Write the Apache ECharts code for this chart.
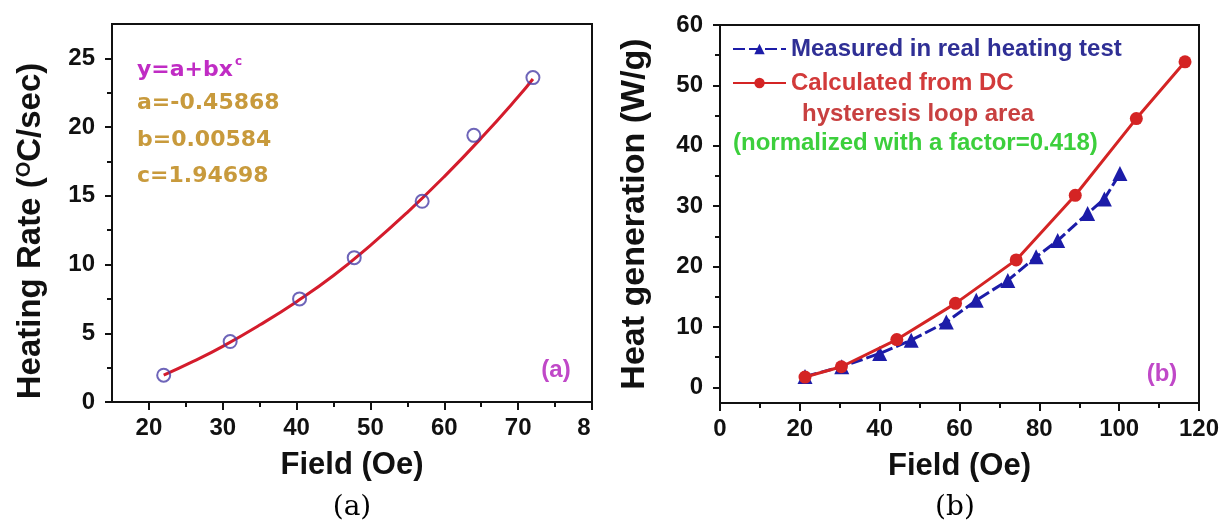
<!DOCTYPE html>
<html><head><meta charset="utf-8">
<script src="https://cdn.jsdelivr.net/npm/echarts@6/dist/echarts.min.js"></script>
<style>html,body{margin:0;padding:0;background:#fff}#c{width:1230px;height:530px}</style>
</head><body><div id="c"></div>
<script>
// ---- Panel (a) data ----
const xTicksA = [20, 30, 40, 50, 60, 70, 80];
const xTickLabelsA = ['20', '30', '40', '50', '60', '70', '8'];
const xMinorA = [25, 35, 45, 55, 65, 75];
const yTicksA = [0, 5, 10, 15, 20, 25];
const yMinorA = [2.5, 7.5, 12.5, 17.5, 22.5];
const fieldA = [22, 31, 40.4, 47.8, 57, 64, 72];
const rateA = [1.95, 4.4, 7.5, 10.5, 14.6, 19.4, 23.6];
const fitFieldA = [22, 26, 30, 35, 40, 45, 50, 55, 60, 65, 70, 72];
const fitRateA = [1.95, 2.95, 4.05, 5.6, 7.3, 9.2, 11.4, 13.8, 16.4, 19.2, 22.2, 23.5];
const fitLines = ['a=-0.45868', 'b=0.00584', 'c=1.94698'];

// ---- Panel (b) data ----
const xTicksB = [0, 20, 40, 60, 80, 100, 120];
const xMinorB = [10, 30, 50, 70, 90, 110];
const yTicksB = [0, 10, 20, 30, 40, 50, 60];
const yMinorB = [5, 15, 25, 35, 45, 55];
const fieldMeas = [21.3, 30.5, 40, 47.9, 56.7, 64.2, 72.1, 79.2, 84.6, 92.1, 96.3, 100.2];
const heatMeas = [1.8, 3.4, 5.6, 7.8, 10.8, 14.4, 17.7, 21.6, 24.3, 28.8, 31.2, 35.4];
const fieldCalc = [21.3, 30.4, 44.3, 59, 74.2, 89, 104.3, 116.5];
const heatCalc = [1.7, 3.4, 7.9, 13.9, 21.1, 31.8, 44.5, 53.9];
const nameMeas = 'Measured in real heating test';
const nameCalc = 'Calculated from DC';
const calcLine2 = 'hysteresis loop area';
const normNote = '(normalized with a factor=0.418)';

const SANS = '"Liberation Sans", Arial, sans-serif';
const pair = (xs, ys) => xs.map((x, i) => [x, ys[i]]);

const labelStyle = { fontFamily: SANS, fontWeight: 'bold', fontSize: 24, color: '#111',
  rich: { cut: { fontFamily: SANS, fontWeight: 'bold', fontSize: 24, color: '#111', padding: [0, 16, 0, 0] } } };
function nameStyle(size, pad) {
  return { fontFamily: SANS, fontWeight: 'bold', fontSize: size, color: '#111', padding: pad,
    rich: { sup: { fontFamily: SANS, fontWeight: 'bold', fontSize: 20, color: '#111', padding: [0, 0, 14, 0] } } };
}
const lineStyleAx = { color: '#111', width: 2 };

function xMain(gi, min, max, ticks, labels, name) {
  return { type: 'value', gridIndex: gi, min, max, position: 'bottom',
    axisLine: { show: true, onZero: false, lineStyle: lineStyleAx },
    axisTick: { show: true, inside: false, length: 8, lineStyle: { color: '#111', width: 2 }, customValues: ticks },
    axisLabel: { ...labelStyle, margin: 14, customValues: ticks,
      formatter: v => { const i = ticks.indexOf(v); const t = i >= 0 ? labels[i] : '';
        return (t !== String(v) && t !== '') ? '{cut|' + t + '}' : t; } },
    splitLine: { show: false },
    name, nameLocation: 'middle', nameGap: 48, nameTextStyle: nameStyle(31, 0) };
}
function xMinor(gi, min, max, ticks) {
  return { type: 'value', gridIndex: gi, min, max, position: 'bottom',
    axisLine: { show: false, onZero: false }, axisLabel: { show: false }, splitLine: { show: false },
    axisTick: { show: true, length: 5, lineStyle: { color: '#111', width: 2 }, customValues: ticks } };
}
function yMain(gi, min, max, ticks, name, gap, size, pad) {
  return { type: 'value', gridIndex: gi, min, max, position: 'left',
    axisLine: { show: true, onZero: false, lineStyle: lineStyleAx },
    axisTick: { show: true, length: 7, lineStyle: { color: '#111', width: 2 }, customValues: ticks },
    axisLabel: { ...labelStyle, margin: 17, customValues: ticks, formatter: v => String(v) },
    splitLine: { show: false },
    name, nameLocation: 'middle', nameGap: gap, nameRotate: 90, nameTextStyle: nameStyle(size, pad) };
}
function yMinor(gi, min, max, ticks) {
  return { type: 'value', gridIndex: gi, min, max, position: 'left',
    axisLine: { show: false, onZero: false }, axisLabel: { show: false }, splitLine: { show: false },
    axisTick: { show: true, length: 5, lineStyle: { color: '#111', width: 2 }, customValues: ticks } };
}

const chart = echarts.init(document.getElementById('c'));
chart.setOption({
  animation: false,
  backgroundColor: '#fff',
  grid: [
    { left: 112, top: 24, width: 480, height: 378, show: true, borderColor: '#111', borderWidth: 2, containLabel: false },
    { left: 720, top: 25, width: 479, height: 378, show: true, borderColor: '#111', borderWidth: 2, containLabel: false }
  ],
  xAxis: [
    xMain(0, 15, 80, xTicksA, xTickLabelsA, 'Field (Oe)'),
    xMinor(0, 15, 80, xMinorA),
    xMain(1, 0, 120, xTicksB, xTicksB.map(String), 'Field (Oe)'),
    xMinor(1, 0, 120, xMinorB)
  ],
  yAxis: [
    yMain(0, 0, 27.5, yTicksA, 'Heating Rate ({sup|O}C/sec)', 64, 33, [0, 36, 0, 0]),
    yMinor(0, 0, 27.5, yMinorA),
    yMain(1, -2.6, 60, yTicksB, 'Heat generation (W/g)', 68, 34, [0, 0, 0, 0]),
    yMinor(1, -2.6, 60, yMinorB)
  ],
  legend: {
    orient: 'vertical', left: 732, top: 37, padding: 0, itemGap: 10,
    itemWidth: 53, itemHeight: 13, selectedMode: false,
    textStyle: { fontFamily: SANS, fontWeight: 'bold', fontSize: 24 },
    data: [
      { name: nameMeas, textStyle: { color: '#2f2f95' } },
      { name: nameCalc, textStyle: { color: '#d23a3a' } }
    ]
  },
  series: [
    { type: 'line', xAxisIndex: 0, yAxisIndex: 0, data: pair(fitFieldA, fitRateA), smooth: true,
      showSymbol: false, lineStyle: { color: '#d41c2c', width: 3 }, z: 3 },
    { type: 'scatter', xAxisIndex: 0, yAxisIndex: 0, data: pair(fieldA, rateA), symbol: 'circle', symbolSize: 13,
      itemStyle: { color: 'rgba(0,0,0,0)', borderColor: '#4a3fa8', borderWidth: 2 }, z: 4 },
    { name: nameMeas, type: 'line', xAxisIndex: 2, yAxisIndex: 2, data: pair(fieldMeas, heatMeas),
      symbol: 'triangle', symbolSize: 15, color: '#1c1ca8',
      lineStyle: { color: '#1c1ca8', width: 3, type: [12, 4] }, itemStyle: { color: '#1c1ca8' }, z: 3 },
    { name: nameCalc, type: 'line', xAxisIndex: 2, yAxisIndex: 2, data: pair(fieldCalc, heatCalc),
      symbol: 'circle', symbolSize: 13, color: '#d42424',
      lineStyle: { color: '#d42424', width: 3 }, itemStyle: { color: '#d42424' }, z: 4 }
  ],
  graphic: [
    { type: 'text', x: 137, y: 70, style: { text: 'y=a+bx{sup|c}', textVerticalAlign: 'middle', fill: '#c02cc4',
        font: 'bold 22px "DejaVu Sans", sans-serif',
        rich: { sup: { fontSize: 12, fontWeight: 'bold', fontFamily: '"DejaVu Sans", sans-serif', fill: '#c02cc4', padding: [0, 0, 16, 2] } } } },
    { type: 'text', x: 137, y: 103, style: { text: fitLines[0], textVerticalAlign: 'middle', fill: '#c89a3c', font: 'bold 22px "DejaVu Sans", sans-serif' } },
    { type: 'text', x: 137, y: 140, style: { text: fitLines[1], textVerticalAlign: 'middle', fill: '#c89a3c', font: 'bold 22px "DejaVu Sans", sans-serif' } },
    { type: 'text', x: 137, y: 176, style: { text: fitLines[2], textVerticalAlign: 'middle', fill: '#c89a3c', font: 'bold 22px "DejaVu Sans", sans-serif' } },
    { type: 'text', x: 556, y: 370, style: { text: '(a)', textAlign: 'center', textVerticalAlign: 'middle', fill: '#c048c8', font: 'bold 24px "Liberation Sans", Arial' } },
    { type: 'text', x: 1162, y: 374, style: { text: '(b)', textAlign: 'center', textVerticalAlign: 'middle', fill: '#c048c8', font: 'bold 24px "Liberation Sans", Arial' } },
    { type: 'text', x: 802, y: 114, style: { text: calcLine2, textVerticalAlign: 'middle', fill: '#c84040', font: 'bold 24px "Liberation Sans", Arial' } },
    { type: 'text', x: 733, y: 143, style: { text: normNote, textVerticalAlign: 'middle', fill: '#3ccf3c', font: 'bold 24px "Liberation Sans", Arial' } },
    { type: 'text', x: 352, y: 508, style: { text: '(a)', textAlign: 'center', textVerticalAlign: 'middle', fill: '#000', font: '28px "DejaVu Serif", serif' } },
    { type: 'text', x: 955, y: 508, style: { text: '(b)', textAlign: 'center', textVerticalAlign: 'middle', fill: '#000', font: '28px "DejaVu Serif", serif' } }
  ]
});
</script></body></html>
